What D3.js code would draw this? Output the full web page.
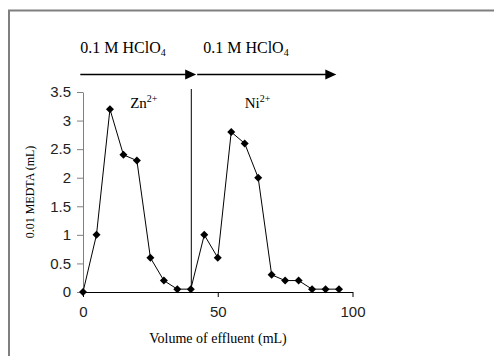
<!DOCTYPE html>
<html><head><meta charset="utf-8">
<script src="https://cdn.jsdelivr.net/npm/d3@7/dist/d3.min.js"></script>
<style>body{margin:0;background:#fff}svg{display:block}</style>
</head><body>
<script>
const volume = [0,5,10,15,20,25,30,35,40,45,50,55,60,65,70,75,80,85,90,95];
const edta = [0,1,3.2,2.4,2.3,0.6,0.2,0.05,0.05,1,0.6,2.8,2.6,2,0.3,0.2,0.2,0.05,0.05,0.05];
const xTicks = [0,50,100];
const yTicks = [0,0.5,1,1.5,2,2.5,3,3.5];
const ionLabels = [{x:17.5, ion:"Zn"},{x:60, ion:"Ni"}];
const eluentSegments = [[-1,42],[42,94]];
const divider = 40;

const W=494,H=356;
const svg=d3.select("body").append("svg").attr("width",W).attr("height",H);
svg.append("rect").attr("width",W).attr("height",H).attr("fill","#fff");
svg.append("path").attr("d","M9,356V10.5H494").attr("fill","none").attr("stroke","#7f7f7f").attr("stroke-width",2);

const x=d3.scaleLinear().domain([0,100]).range([83,352.5]);
const y=d3.scaleLinear().domain([0,3.5]).range([292,92]);

const xa=svg.append("g").attr("transform","translate(0,292)")
  .call(d3.axisBottom(x).tickValues(xTicks).tickSize(5).tickSizeOuter(0).tickPadding(9));
const ya=svg.append("g").attr("transform","translate(83,0)")
  .call(d3.axisLeft(y).tickValues(yTicks).tickSize(6).tickSizeOuter(0).tickPadding(6).tickFormat(d=>String(d)));
[xa,ya].forEach(a=>{
  a.selectAll("path").attr("stroke","#000");
  a.selectAll("line").attr("stroke","#000");
  a.selectAll("text").attr("font-family","Liberation Sans, Arial, sans-serif").attr("font-size",15).attr("fill","#222");
});
ya.select(".domain").attr("stroke","#808080");
ya.selectAll("line").attr("stroke","#808080");

svg.append("line").attr("x1",x(divider)+0.5).attr("x2",x(divider)+0.5).attr("y1",89).attr("y2",292).attr("stroke","#000").attr("stroke-width",1);

const ay=74.5;
eluentSegments.forEach(s=>{
  const x0 = x(s[0])+ (s[0]<0?0:1), x1 = x(s[1]);
  svg.append("line").attr("x1",x0).attr("x2",x1-8).attr("y1",ay).attr("y2",ay).attr("stroke","#000").attr("stroke-width",1.5);
  svg.append("path").attr("d",`M${x1},${ay}L${x1-11},${ay-5}L${x1-11},${ay+5}Z`).attr("fill","#000");
  const t=svg.append("text").attr("x",x0+ (s[0]<0?0:6)).attr("y",53).attr("font-family","Liberation Serif, Times New Roman, serif").attr("font-size",16).attr("fill","#000");
  t.append("tspan").text("0.1 M HClO");
  t.append("tspan").attr("font-size",10).attr("dy",3).text("4");
});

ionLabels.forEach(d=>{
  const t=svg.append("text").attr("x",x(d.x)).attr("y",108).attr("font-family","Liberation Serif, Times New Roman, serif").attr("font-size",15).attr("fill","#000");
  t.append("tspan").text(d.ion);
  t.append("tspan").attr("font-size",10).attr("dy",-6).text("2+");
});

const pts=volume.map((v,i)=>[v,edta[i]]);
svg.append("path").datum(pts).attr("fill","none").attr("stroke","#000").attr("stroke-width",1)
  .attr("d",d3.line().x(d=>x(d[0])).y(d=>y(d[1])));
svg.append("g").selectAll("path").data(pts).join("path")
  .attr("transform",d=>`translate(${x(d[0])},${y(d[1])})`)
  .attr("d","M0,-4L4,0L0,4L-4,0Z").attr("fill","#000");

svg.append("text").attr("x",218).attr("y",343).attr("text-anchor","middle")
  .attr("font-family","Liberation Serif, Times New Roman, serif").attr("font-size",14).text("Volume of effluent (mL)");
svg.append("text").attr("transform","translate(34,192) rotate(-90)").attr("text-anchor","middle")
  .attr("font-family","Liberation Serif, Times New Roman, serif").attr("font-size",12).text("0.01 MEDTA (mL)");
</script>
</body></html>
